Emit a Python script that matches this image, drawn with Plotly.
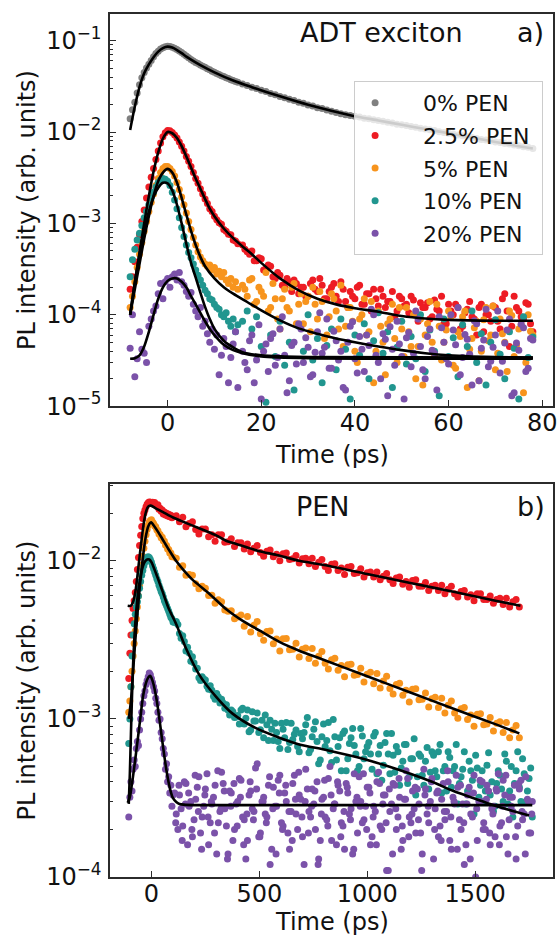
import plotly.graph_objects as go

# ---------------- panel a) ADT exciton ----------------
t_a = [-8.0, -7.5, -7.0, -6.5, -6.0, -5.5, -5.0, -4.5, -4.0, -3.5, -3.0, -2.5, -2.0, -1.5, -1.0, -0.5,
       0.0, 0.5, 1.0, 1.5, 2.0, 2.5, 3.0, 3.5, 4.0, 4.5, 5.0, 5.5, 6.0, 6.5, 7.0, 7.5,
       8.0, 8.5, 9.0, 9.5, 10.0, 10.5, 11.0, 11.5, 12.0, 12.5, 13.0, 13.5, 14.0, 14.5, 15.0,
       16, 17, 18, 19, 20, 21, 22, 23, 24, 25, 26, 27, 28, 29, 30, 31, 32, 33, 34, 35, 36, 37, 38, 39,
       40, 41, 42, 43, 44, 45, 46, 47, 48, 49, 50, 51, 52, 53, 54, 55, 56, 57, 58, 59, 60, 61, 62, 63,
       64, 65, 66, 67, 68, 69, 70, 71, 72, 73, 74, 75, 76, 77, 78]
t_a2 = [16.5, 17.5, 18.5, 19.5, 20.5, 21.5, 22.5, 23.5, 24.5, 25.5, 26.5, 27.5, 28.5, 29.5, 30.5,
        31.5, 32.5, 33.5, 34.5, 35.5, 36.5, 37.5, 38.5, 39.5, 40.5, 41.5, 42.5, 43.5, 44.5, 45.5,
        46.5, 47.5, 48.5, 49.5, 50.5, 51.5, 52.5, 53.5, 54.5, 55.5, 56.5, 57.5, 58.5, 59.5, 60.5,
        61.5, 62.5, 63.5, 64.5, 65.5, 66.5, 67.5, 68.5, 69.5, 70.5, 71.5, 72.5, 73.5, 74.5, 75.5,
        76.5, 77.5]

gray_a = [0.0140, 0.0175, 0.0212, 0.0268, 0.0330, 0.0392, 0.0448, 0.0502, 0.0553, 0.0608, 0.0668, 0.0722, 0.0768, 0.0812, 0.0838, 0.0858,
          0.0868, 0.0862, 0.0848, 0.0828, 0.0802, 0.0772, 0.0741, 0.0712, 0.0681, 0.0652, 0.0622, 0.0601, 0.0578, 0.0562, 0.0541, 0.0524,
          0.0512, 0.0494, 0.0481, 0.0463, 0.0452, 0.0436, 0.0427, 0.0413, 0.0405, 0.0392, 0.0385, 0.0374, 0.0367, 0.0357, 0.0351,
          0.0336, 0.0323, 0.0309, 0.0299, 0.0286, 0.0277, 0.0264, 0.0256, 0.0245, 0.0238,
          0.0228, 0.0221, 0.0212, 0.0206, 0.0198, 0.0193, 0.0185, 0.0181, 0.0174, 0.0169,
          0.0164, 0.0159, 0.0155, 0.0152, 0.0149, 0.0146, 0.0142, 0.0140, 0.0136, 0.0134,
          0.0131, 0.0128, 0.0126, 0.0122, 0.0120, 0.0118, 0.0115, 0.0113, 0.0110, 0.0108,
          0.0106, 0.0104, 0.0101, 0.0099, 0.0097, 0.0095, 0.0093, 0.0091, 0.0089, 0.0087,
          0.0085, 0.0083, 0.0082, 0.0080, 0.0078, 0.0077, 0.0075, 0.0074, 0.0072, 0.0071,
          0.0069, 0.0068, 0.0066]

red_a = [1.9e-4, 2.6e-4, 3.8e-4, 5.5e-4, 7.5e-4, 1.05e-3, 1.4e-3, 1.9e-3, 2.5e-3, 3.2e-3, 4.0e-3, 5.0e-3, 6.2e-3, 7.6e-3, 8.9e-3, 9.8e-3,
         1.04e-2, 1.03e-2, 9.9e-3, 9.3e-3, 8.6e-3, 7.8e-3, 7.0e-3, 6.2e-3, 5.4e-3, 4.8e-3,
         4.2e-3, 3.6e-3, 3.1e-3, 2.75e-3, 2.4e-3, 2.1e-3, 1.85e-3, 1.65e-3, 1.45e-3, 1.35e-3, 1.2e-3,
         1.1e-3, 1.02e-3, 9.8e-4, 8.6e-4, 8.2e-4, 7.6e-4, 7.5e-4, 6.6e-4, 6.4e-4, 6.0e-4,
         5.8e-4, 4.9e-4, 5.0e-4, 3.9e-4, 4.1e-4, 3.2e-4, 3.4e-4, 2.5e-4, 2.7e-4, 2.0e-4, 2.3e-4, 2.4e-4, 1.7e-4, 2.0e-4, 1.6e-4,
         2.4e-4, 1.8e-4, 2.1e-4, 1.5e-4, 2.0e-4, 1.6e-4, 2.3e-4, 1.4e-4, 1.8e-4, 1.5e-4,
         2.1e-4, 1.3e-4, 1.7e-4, 1.9e-4, 1.25e-4, 1.6e-4, 1.4e-4, 1.8e-4, 1.1e-4, 1.5e-4,
         1.3e-4, 1.6e-4, 1.0e-4, 1.35e-4, 1.2e-4, 9.0e-5, 1.45e-4, 1.1e-4, 8.0e-5, 1.3e-4,
         1.0e-4, 1.2e-4, 7.5e-5, 1.15e-4, 9.5e-5, 6.0e-5, 1.3e-4, 1.0e-4, 8.5e-5, 1.2e-4,
         7.0e-5, 1.7e-4, 4.5e-5, 1.6e-4, 1.1e-4, 9.0e-5, 1.3e-4, 6.5e-5]
red_a2 = [5.2e-4, 4.6e-4, 3.9e-4, 4.2e-4, 3.1e-4, 3.5e-4, 2.6e-4, 2.9e-4, 2.1e-4, 2.5e-4,
          1.8e-4, 2.2e-4, 2.0e-4, 1.6e-4, 2.2e-4, 1.9e-4, 2.5e-4, 1.5e-4, 1.8e-4, 2.2e-4,
          1.4e-4, 1.9e-4, 1.2e-4, 1.6e-4, 2.0e-4, 1.3e-4, 1.7e-4, 1.1e-4, 1.5e-4, 1.9e-4,
          1.2e-4, 1.4e-4, 9.5e-5, 1.6e-4, 1.25e-4, 1.05e-4, 1.45e-4, 8.5e-5, 1.2e-4, 1.35e-4,
          9.5e-5, 1.15e-4, 1.6e-4, 8.0e-5, 1.1e-4, 1.3e-4, 7.0e-5, 1.05e-4, 1.4e-4, 9.0e-5,
          1.2e-4, 6.5e-5, 1.0e-4, 1.25e-4, 8.5e-5, 1.5e-4, 1.1e-4, 7.5e-5, 1.2e-4, 9.5e-5,
          1.35e-4, 8.0e-5]

orange_a = [1.2e-4, 1.6e-4, 2.3e-4, 3.3e-4, 4.6e-4, 6.2e-4, 8.2e-4, 1.05e-3, 1.35e-3, 1.7e-3, 2.1e-3, 2.6e-3, 3.1e-3, 3.6e-3, 4.0e-3, 4.2e-3,
            4.2e-3, 4.0e-3, 3.7e-3, 3.3e-3, 2.8e-3, 2.35e-3, 1.95e-3, 1.6e-3, 1.3e-3, 1.05e-3, 8.6e-4, 7.0e-4, 5.8e-4, 4.9e-4, 4.3e-4, 3.9e-4,
            3.6e-4, 3.4e-4, 3.5e-4, 3.1e-4, 3.3e-4, 2.8e-4, 3.0e-4, 2.6e-4, 2.9e-4, 2.4e-4, 2.2e-4, 2.5e-4, 2.0e-4, 2.3e-4, 1.9e-4,
            2.1e-4, 1.6e-4, 2.5e-4, 1.4e-4, 1.8e-4, 2.9e-4, 1.2e-4, 1.5e-4, 7.0e-5, 1.9e-4,
            1.1e-4, 2.2e-4, 1.3e-4, 8.0e-5, 1.6e-4, 2.0e-4, 9.0e-5, 1.4e-4, 6.0e-5, 1.7e-4,
            1.1e-4, 2.1e-4, 7.5e-5, 1.2e-4, 4.0e-5, 9.0e-5, 1.5e-4, 6.5e-5, 1.8e-5, 1.1e-4,
            5.0e-5, 8.0e-5, 1.3e-4, 3.0e-5, 7.0e-5, 1.2e-4, 4.5e-5, 2.0e-5, 9.0e-5, 6.0e-5,
            1.4e-4, 3.5e-5, 7.5e-5, 5.0e-5, 1.1e-4, 2.8e-5, 6.5e-5, 9.5e-5, 1.6e-5, 5.5e-5,
            8.5e-5, 4.0e-5, 1.2e-4, 6.0e-5, 2.5e-5, 9.0e-5, 5.0e-5, 1.1e-4, 3.5e-5, 7.0e-5,
            1.4e-5, 1.0e-4, 6.0e-5]
orange_a2 = [1.9e-4, 2.4e-4, 1.3e-4, 2.0e-4, 1.6e-4, 1.1e-4, 2.2e-4, 9.0e-5, 1.5e-4, 1.2e-4,
             2.0e-4, 8.0e-5, 1.7e-4, 1.4e-4, 6.5e-5, 1.3e-4, 1.8e-4, 5.5e-5, 9.5e-5, 1.5e-4,
             7.0e-5, 4.5e-5, 1.2e-4, 8.5e-5, 3.0e-5, 1.0e-4, 6.0e-5, 1.4e-4, 4.0e-5, 7.5e-5,
             2.2e-5, 9.0e-5, 5.5e-5, 1.2e-4, 3.5e-5, 6.5e-5, 1.0e-4, 4.5e-5, 1.7e-5, 8.0e-5,
             5.0e-5, 1.3e-4, 3.2e-5, 6.8e-5, 9.5e-5, 2.6e-5, 5.8e-5, 1.1e-4, 4.2e-5, 7.2e-5,
             1.9e-5, 8.8e-5, 5.2e-5, 1.25e-4, 3.8e-5, 6.2e-5, 2.4e-5, 9.8e-5, 4.6e-5, 7.8e-5,
             3.0e-5, 6.6e-5]

teal_a = [2.6e-4, 4.0e-4, 5.2e-4, 6.6e-4, 7.8e-4, 9.5e-4, 1.15e-3, 1.35e-3, 1.6e-3, 1.9e-3, 2.2e-3, 2.5e-3, 2.8e-3, 3.0e-3, 3.1e-3, 3.05e-3,
          2.9e-3, 2.6e-3, 2.2e-3, 1.8e-3, 1.45e-3, 1.15e-3, 9.0e-4, 7.2e-4, 5.8e-4, 4.8e-4, 4.2e-4, 3.6e-4, 3.1e-4, 2.7e-4, 2.4e-4, 2.1e-4,
          1.85e-4, 1.7e-4, 1.5e-4, 1.45e-4, 1.3e-4, 1.2e-4, 1.15e-4, 1.0e-4, 9.5e-5, 1.05e-4, 8.5e-5, 7.5e-5, 9.0e-5, 6.5e-5, 7.8e-5,
          8.5e-5, 1.1e-4, 7.0e-5, 9.5e-5, 4.5e-5, 1.1e-5, 6.0e-5, 3.5e-5, 8.5e-5, 2.8e-5,
          5.0e-5, 1.5e-5, 7.5e-5, 4.0e-5, 1.0e-4, 3.2e-5, 5.5e-5, 1.8e-5, 4.6e-5, 7.0e-5,
          2.5e-5, 9.0e-5, 4.2e-5, 1.2e-5, 6.0e-5, 3.6e-5, 8.0e-5, 2.0e-5, 5.2e-5, 1.05e-4,
          3.8e-5, 6.5e-5, 1.6e-5, 4.4e-5, 8.5e-5, 2.9e-5, 5.8e-5, 3.3e-5, 1.0e-4, 2.4e-5,
          6.8e-5, 4.0e-5, 1.3e-5, 9.0e-5, 3.5e-5, 5.6e-5, 2.1e-5, 7.8e-5, 4.5e-5, 1.1e-4,
          3.0e-5, 6.2e-5, 1.7e-5, 5.0e-5, 8.8e-5, 3.7e-5, 2.0e-5, 6.5e-5, 4.3e-5, 1.2e-5,
          9.5e-5, 3.4e-5, 5.7e-5]

purple_a = [4.3e-5, 1.0e-4, 2.1e-5, 3.3e-5, 6.5e-5, 4.2e-5, 3.8e-5, 3.0e-5, 7.5e-5, 9.0e-5, 1.1e-4, 1.25e-4, 1.7e-4, 2.2e-4, 1.5e-4, 2.3e-4,
            2.5e-4, 2.0e-4, 2.6e-4, 2.8e-4, 2.4e-4, 2.9e-4, 2.3e-4, 2.1e-4, 1.8e-4, 1.6e-4, 1.75e-4, 1.3e-4, 1.1e-4, 9.5e-5, 1.2e-4, 7.5e-5,
            8.5e-5, 6.2e-5, 5.0e-5, 7.0e-5, 4.2e-5, 6.0e-5, 2.2e-5, 3.6e-5, 5.5e-5, 4.5e-5, 1.8e-5, 3.4e-5, 4.8e-5, 6.5e-5, 1.6e-5,
            4.0e-5, 2.5e-5, 6.0e-5, 3.2e-5, 1.2e-5, 4.8e-5, 5.5e-5, 2.8e-5, 7.0e-5, 3.6e-5,
            1.9e-5, 5.0e-5, 8.0e-5, 3.0e-5, 4.4e-5, 2.2e-5, 6.5e-5, 3.8e-5, 9.0e-5, 2.6e-5,
            5.2e-5, 4.0e-5, 1.5e-5, 7.5e-5, 3.3e-5, 5.8e-5, 2.4e-5, 4.6e-5, 1.0e-4, 3.0e-5,
            6.2e-5, 1.3e-5, 4.2e-5, 8.5e-5, 3.5e-5, 5.6e-5, 2.7e-5, 1.1e-4, 4.5e-5, 2.0e-5,
            7.0e-5, 3.8e-5, 9.5e-5, 5.0e-5, 2.9e-5, 6.8e-5, 1.2e-4, 3.4e-5, 5.4e-5, 1.7e-5,
            8.0e-5, 4.3e-5, 1.15e-4, 3.1e-5, 6.0e-5, 2.3e-5, 4.9e-5, 9.0e-5, 1.4e-5, 4.1e-5,
            7.2e-5, 2.6e-5, 5.3e-5]
purple_a2 = [3.0e-5, 5.2e-5, 1.8e-5, 7.8e-5, 4.0e-5, 2.4e-5, 6.2e-5, 3.4e-5, 9.5e-5, 1.4e-5,
             4.6e-5, 2.9e-5, 7.0e-5, 5.6e-5, 2.1e-5, 3.9e-5, 1.05e-4, 4.4e-5, 2.6e-5, 6.6e-5,
             3.2e-5, 1.6e-5, 5.0e-5, 8.4e-5, 2.3e-5, 4.2e-5, 6.0e-5, 1.15e-4, 3.6e-5, 2.0e-5,
             5.4e-5, 7.4e-5, 2.8e-5, 4.8e-5, 1.2e-5, 6.4e-5, 3.8e-5, 9.0e-5, 2.5e-5, 5.8e-5,
             4.1e-5, 1.5e-5, 7.2e-5, 3.3e-5, 1.0e-4, 4.7e-5, 2.2e-5, 6.1e-5, 3.7e-5, 8.6e-5,
             1.9e-5, 5.3e-5, 2.7e-5, 4.4e-5, 1.1e-4, 3.1e-5, 6.8e-5, 1.3e-5, 4.9e-5, 7.9e-5,
             2.4e-5, 5.5e-5]

# fitted curves, panel a)
fit_t_gray = [-8, -7, -6, -5, -4, -3, -2, -1, 0, 1, 2, 3, 4, 5, 7, 10, 14, 18, 24, 30, 39, 45, 50, 55, 60, 65, 70, 75, 78]
fit_gray = [0.0105, 0.019, 0.031, 0.044, 0.055, 0.066, 0.076, 0.083, 0.086, 0.084, 0.079, 0.073, 0.067, 0.062, 0.054,
            0.045, 0.0366, 0.031, 0.0246, 0.0199, 0.0153, 0.0134, 0.012, 0.0108, 0.0097, 0.0087, 0.0078, 0.007, 0.0066]
fit_t_red = [-8, -7, -6, -5, -4, -3, -2, -1, 0, 1, 2, 3, 4, 5, 6, 7, 8, 9, 10, 12, 14, 16, 18, 20, 24, 28, 32, 36, 40, 45, 50, 55, 60, 70, 78]
fit_red = [1.0e-4, 2.2e-4, 4.8e-4, 1.0e-3, 2.0e-3, 3.7e-3, 6.0e-3, 8.5e-3, 1.0e-2, 9.7e-3, 8.6e-3, 7.0e-3, 5.4e-3, 4.1e-3,
           3.1e-3, 2.4e-3, 1.85e-3, 1.45e-3, 1.2e-3, 8.8e-4, 6.9e-4, 5.6e-4, 4.6e-4, 3.7e-4, 2.5e-4, 1.85e-4, 1.5e-4,
           1.3e-4, 1.18e-4, 1.08e-4, 9.7e-5, 9.1e-5, 8.8e-5, 8.6e-5, 8.6e-5]
fit_t_orange = [-8, -7, -6, -5, -4, -3, -2, -1, 0, 1, 2, 3, 4, 5, 6, 7, 8, 10, 12, 14, 17, 20, 24, 28, 32, 36, 40, 45, 50, 55, 60, 65, 70, 78]
fit_orange = [1.0e-4, 1.9e-4, 3.6e-4, 6.8e-4, 1.2e-3, 2.0e-3, 2.9e-3, 3.6e-3, 3.95e-3, 3.6e-3, 2.8e-3, 1.9e-3, 1.25e-3,
              8.3e-4, 5.8e-4, 4.3e-4, 3.4e-4, 2.5e-4, 2.0e-4, 1.7e-4, 1.38e-4, 1.12e-4, 8.7e-5, 7.1e-5, 6.2e-5, 5.5e-5,
              5.0e-5, 4.5e-5, 4.1e-5, 3.8e-5, 3.6e-5, 3.5e-5, 3.45e-5, 3.4e-5]
fit_t_teal = [-8, -7, -6, -5, -4, -3, -2, -1, 0, 1, 2, 3, 4, 5, 6, 7, 8, 9, 10, 12, 14, 16, 20, 25, 30, 78]
fit_teal = [1.0e-4, 2.3e-4, 4.6e-4, 8.3e-4, 1.35e-3, 1.95e-3, 2.45e-3, 2.78e-3, 2.75e-3, 2.3e-3, 1.6e-3, 1.0e-3, 6.0e-4,
            3.7e-4, 2.55e-4, 1.75e-4, 1.22e-4, 9.0e-5, 7.0e-5, 5.2e-5, 4.4e-5, 3.9e-5, 3.6e-5, 3.5e-5, 3.45e-5, 3.4e-5]
fit_t_purple = [-8, -7, -6, -5, -4, -3, -2, -1, 0, 1, 2, 3, 4, 5, 6, 7, 8, 9, 10, 12, 14, 16, 20, 30, 78]
fit_purple = [3.3e-5, 3.35e-5, 3.6e-5, 4.5e-5, 6.5e-5, 1.0e-4, 1.5e-4, 2.0e-4, 2.35e-4, 2.5e-4, 2.5e-4, 2.3e-4, 2.0e-4,
              1.6e-4, 1.3e-4, 1.05e-4, 8.5e-5, 7.0e-5, 6.0e-5, 4.7e-5, 4.1e-5, 3.8e-5, 3.5e-5, 3.35e-5, 3.3e-5]

# ---------------- panel b) PEN ----------------
t_b = [-105, -100, -95, -90, -85, -80, -75, -70, -65, -60, -55, -50, -45, -40, -35, -30, -25, -20, -15, -10, -5, 0,
       5, 10, 15, 20, 25, 30, 35, 40, 45, 50, 55, 60, 65, 70, 75, 80, 85, 90, 95, 100,
       115, 130, 145, 160, 175, 190, 205, 220, 235, 250, 265, 280, 295, 310, 325, 340, 355, 370, 385, 400,
       415, 430, 445, 460, 475, 490, 505, 520, 535, 550, 565, 580, 595, 610, 625, 640, 655, 670, 685, 700,
       715, 730, 745, 760, 775, 790, 805, 820, 835, 850, 865, 880, 895, 910, 925, 940, 955, 970, 985, 1000,
       1015, 1030, 1045, 1060, 1075, 1090, 1105, 1120, 1135, 1150, 1165, 1180, 1195, 1210, 1225, 1240, 1255, 1270, 1285, 1300,
       1315, 1330, 1345, 1360, 1375, 1390, 1405, 1420, 1435, 1450, 1465, 1480, 1495, 1510, 1525, 1540, 1555, 1570, 1585, 1600,
       1615, 1630, 1645, 1660, 1675, 1690, 1705, 1720, 1735, 1750, 1765]
t_b2 = [107.5, 122.5, 137.5, 152.5, 167.5, 182.5, 197.5, 212.5, 227.5, 242.5, 257.5, 272.5, 287.5, 302.5, 317.5, 332.5, 347.5, 362.5, 377.5, 392.5,
        407.5, 422.5, 437.5, 452.5, 467.5, 482.5, 497.5, 512.5, 527.5, 542.5, 557.5, 572.5, 587.5, 602.5, 617.5, 632.5, 647.5, 662.5, 677.5, 692.5,
        707.5, 722.5, 737.5, 752.5, 767.5, 782.5, 797.5, 812.5, 827.5, 842.5, 857.5, 872.5, 887.5, 902.5, 917.5, 932.5, 947.5, 962.5, 977.5, 992.5,
        1007.5, 1022.5, 1037.5, 1052.5, 1067.5, 1082.5, 1097.5, 1112.5, 1127.5, 1142.5, 1157.5, 1172.5, 1187.5, 1202.5, 1217.5, 1232.5, 1247.5, 1262.5, 1277.5, 1292.5,
        1307.5, 1322.5, 1337.5, 1352.5, 1367.5, 1382.5, 1397.5, 1412.5, 1427.5, 1442.5, 1457.5, 1472.5, 1487.5, 1502.5, 1517.5, 1532.5, 1547.5, 1562.5, 1577.5, 1592.5,
        1607.5, 1622.5, 1637.5, 1652.5, 1667.5, 1682.5, 1697.5, 1712.5, 1727.5, 1742.5, 1757.5]
t_b3 = [112.5, 127.5, 142.5, 157.5, 172.5, 187.5, 202.5, 217.5, 232.5, 247.5, 262.5, 277.5, 292.5, 307.5, 322.5, 337.5, 352.5, 367.5, 382.5, 397.5,
        412.5, 427.5, 442.5, 457.5, 472.5, 487.5, 502.5, 517.5, 532.5, 547.5, 562.5, 577.5, 592.5, 607.5, 622.5, 637.5, 652.5, 667.5, 682.5, 697.5,
        712.5, 727.5, 742.5, 757.5, 772.5, 787.5, 802.5, 817.5, 832.5, 847.5, 862.5, 877.5, 892.5, 907.5, 922.5, 937.5, 952.5, 967.5, 982.5, 997.5,
        1012.5, 1027.5, 1042.5, 1057.5, 1072.5, 1087.5, 1102.5, 1117.5, 1132.5, 1147.5, 1162.5, 1177.5, 1192.5, 1207.5, 1222.5, 1237.5, 1252.5, 1267.5, 1282.5, 1297.5,
        1312.5, 1327.5, 1342.5, 1357.5, 1372.5, 1387.5, 1402.5, 1417.5, 1432.5, 1447.5, 1462.5, 1477.5, 1492.5, 1507.5, 1522.5, 1537.5, 1552.5, 1567.5, 1582.5, 1597.5,
        1612.5, 1627.5, 1642.5, 1657.5, 1672.5, 1687.5, 1702.5, 1717.5, 1732.5, 1747.5, 1762.5]

red_b = [1.8e-3, 2.6e-3, 3.4e-3, 4.2e-3, 5.0e-3, 5.6e-3, 6.3e-3, 7.4e-3, 8.8e-3, 1.05e-2, 1.25e-2, 1.45e-2, 1.65e-2, 1.85e-2, 2.0e-2, 2.1e-2,
         2.2e-2, 2.28e-2, 2.33e-2, 2.36e-2, 2.35e-2, 2.32e-2,
         2.35e-2, 2.3e-2, 2.34e-2, 2.25e-2, 2.22e-2, 2.26e-2, 2.12e-2, 2.15e-2, 2.06e-2, 2.1e-2, 1.98e-2, 2.04e-2, 1.95e-2, 2.0e-2,
         1.92e-2, 1.97e-2, 1.9e-2, 1.94e-2, 1.87e-2, 1.91e-2,
         1.93e-2, 1.77e-2, 1.89e-2, 1.64e-2, 1.72e-2, 1.77e-2, 1.58e-2, 1.48e-2, 1.59e-2, 1.59e-2, 1.42e-2, 1.46e-2, 1.33e-2, 1.46e-2,
         1.46e-2, 1.31e-2, 1.32e-2, 1.38e-2, 1.23e-2, 1.30e-2,
         1.30e-2, 1.19e-2, 1.28e-2, 1.14e-2, 1.20e-2, 1.25e-2, 1.13e-2, 1.07e-2, 1.15e-2, 1.17e-2, 1.06e-2, 1.10e-2, 1.00e-2, 1.11e-2,
         1.12e-2, 1.02e-2, 1.03e-2, 1.08e-2, 9.7e-3, 1.03e-2,
         1.04e-2, 9.6e-3, 1.04e-2, 9.2e-3, 9.8e-3, 1.02e-2, 9.2e-3, 8.7e-3, 9.5e-3, 9.6e-3, 8.7e-3, 9.0e-3, 8.2e-3, 9.1e-3, 9.2e-3,
         8.3e-3, 8.4e-3, 8.9e-3, 7.9e-3, 8.4e-3,
         8.5e-3, 7.9e-3, 8.5e-3, 7.6e-3, 8.0e-3, 8.3e-3, 7.6e-3, 7.2e-3, 7.8e-3, 7.9e-3, 7.1e-3, 7.4e-3, 6.8e-3, 7.5e-3, 7.6e-3,
         6.9e-3, 6.9e-3, 7.3e-3, 6.5e-3, 6.9e-3,
         7.0e-3, 6.5e-3, 7.0e-3, 6.2e-3, 6.6e-3, 6.9e-3, 6.2e-3, 5.9e-3, 6.4e-3, 6.5e-3, 5.9e-3, 6.1e-3, 5.6e-3, 6.2e-3, 6.2e-3,
         5.7e-3, 5.7e-3, 6.0e-3, 5.4e-3, 5.7e-3,
         5.8e-3, 5.3e-3, 5.8e-3, 5.1e-3, 5.5e-3, 5.7e-3, 5.1e-3]

orange_b = [1.1e-3, 1.3e-3, 1.6e-3, 2.0e-3, 2.5e-3, 3.0e-3, 3.6e-3, 4.3e-3, 5.1e-3, 6.0e-3, 7.0e-3, 8.2e-3, 9.4e-3, 1.07e-2, 1.2e-2,
            1.33e-2, 1.46e-2, 1.58e-2, 1.68e-2, 1.76e-2, 1.8e-2, 1.82e-2,
            1.76e-2, 1.72e-2, 1.66e-2, 1.64e-2, 1.57e-2, 1.55e-2, 1.48e-2, 1.47e-2, 1.40e-2, 1.41e-2, 1.34e-2, 1.33e-2, 1.26e-2,
            1.25e-2, 1.19e-2, 1.18e-2, 1.12e-2, 1.12e-2, 1.06e-2, 1.06e-2,
            1.04e-2, 9.1e-3, 9.3e-3, 8.1e-3, 8.2e-3, 8.1e-3, 7.15e-3, 6.65e-3, 6.9e-3, 6.7e-3, 6.03e-3, 6.06e-3, 5.4e-3, 5.67e-3,
            5.51e-3, 4.88e-3, 4.8e-3, 4.84e-3, 4.3e-3, 4.42e-3,
            4.54e-3, 3.85e-3, 4.44e-3, 3.55e-3, 3.91e-3, 4.14e-3, 3.46e-3, 3.15e-3, 3.57e-3, 3.6e-3, 2.99e-3, 3.2e-3, 2.69e-3, 3.21e-3,
            3.23e-3, 2.74e-3, 2.76e-3, 3.01e-3, 2.46e-3, 2.76e-3,
            2.81e-3, 2.41e-3, 2.79e-3, 2.25e-3, 2.49e-3, 2.67e-3, 2.25e-3, 2.07e-3, 2.37e-3, 2.42e-3, 2.03e-3, 2.18e-3, 1.85e-3, 2.2e-3,
            2.22e-3, 1.89e-3, 1.91e-3, 2.09e-3, 1.71e-3, 1.92e-3,
            1.97e-3, 1.67e-3, 1.94e-3, 1.57e-3, 1.74e-3, 1.86e-3, 1.56e-3, 1.44e-3, 1.65e-3, 1.68e-3, 1.41e-3, 1.52e-3, 1.28e-3, 1.54e-3,
            1.55e-3, 1.32e-3, 1.33e-3, 1.46e-3, 1.19e-3, 1.34e-3,
            1.37e-3, 1.18e-3, 1.35e-3, 1.09e-3, 1.22e-3, 1.3e-3, 1.09e-3, 1.01e-3, 1.16e-3, 1.18e-3, 9.9e-4, 1.06e-3, 9.0e-4, 1.07e-3,
            1.08e-3, 9.2e-4, 9.3e-4, 1.02e-3, 8.4e-4, 9.4e-4,
            9.6e-4, 8.2e-4, 9.5e-4, 7.6e-4, 8.5e-4, 9.1e-4, 7.6e-4]

teal_b = [7.0e-4, 1.0e-3, 1.6e-3, 2.5e-3, 3.4e-3, 4.0e-3, 4.6e-3, 5.1e-3, 5.5e-3, 6.0e-3, 6.7e-3, 7.4e-3, 8.1e-3, 8.7e-3, 9.3e-3,
          9.8e-3, 1.02e-2, 1.05e-2, 1.06e-2, 1.05e-2, 1.02e-2, 9.8e-3,
          9.3e-3, 8.9e-3, 8.5e-3, 8.1e-3, 7.7e-3, 7.4e-3, 7.0e-3, 6.7e-3, 6.4e-3, 6.2e-3, 5.9e-3, 5.6e-3, 5.4e-3, 5.2e-3, 5.0e-3,
          4.8e-3, 4.6e-3, 4.4e-3, 4.3e-3, 4.1e-3,
          4.13e-3, 3.47e-3, 3.36e-3, 2.69e-3, 2.61e-3, 2.47e-3, 2.07e-3, 1.82e-3, 1.85e-3, 1.76e-3, 1.54e-3, 1.52e-3, 1.33e-3, 1.38e-3,
          1.33e-3, 1.17e-3, 1.14e-3, 1.14e-3, 1.02e-3, 1.05e-3,
          1.14e-3, 9.3e-4, 1.14e-3, 8.5e-4, 9.7e-4, 1.09e-3, 8.55e-4, 7.6e-4, 9.2e-4, 9.8e-4, 7.3e-4, 8.2e-4, 6.5e-4, 8.6e-4, 9.5e-4,
          7.1e-4, 7.4e-4, 8.5e-4, 6.2e-4, 7.5e-4,
          9.2e-4, 6.1e-4, 7.7e-4, 9.6e-4, 5.2e-4, 7.7e-4, 6.7e-4, 9.5e-4, 5.3e-4, 7.7e-4, 6.7e-4, 4.7e-4, 8.4e-4, 5.6e-4, 7.6e-4,
          6.8e-4, 4.7e-4, 8.7e-4, 5.6e-4, 6.7e-4,
          6.0e-4, 7.8e-4, 4.5e-4, 6.8e-4, 5.1e-4, 8.1e-4, 4.5e-4, 5.9e-4, 6.7e-4, 3.8e-4, 5.4e-4, 6.9e-4, 4.3e-4, 5.6e-4, 3.3e-4,
          6.0e-4, 4.4e-4, 5.4e-4, 3.6e-4, 6.2e-4,
          4.7e-4, 6.2e-4, 3.4e-4, 5.0e-4, 6.2e-4, 3.7e-4, 5.0e-4, 2.9e-4, 4.3e-4, 6.2e-4, 3.5e-4, 4.7e-4, 2.5e-4, 4.9e-4, 3.8e-4,
          3.0e-4, 5.1e-4, 3.3e-4, 2.6e-4, 3.9e-4,
          4.4e-4, 3.0e-4, 5.4e-4, 3.5e-4, 2.4e-4, 4.7e-4, 3.7e-4, 5.6e-4, 3.0e-4, 4.2e-4, 2.4e-4]
teal_b2 = [4.07e-3, 3.96e-3, 3.24e-3, 3.09e-3, 2.84e-3, 2.32e-3, 2.26e-3, 2.09e-3, 1.75e-3, 1.79e-3, 1.61e-3, 1.62e-3, 1.39e-3,
           1.45e-3, 1.26e-3, 1.26e-3, 1.23e-3, 1.06e-3, 1.11e-3, 1.03e-3,
           9.3e-4, 1.17e-3, 1.01e-3, 8.3e-4, 1.11e-3, 9.7e-4, 8.2e-4, 9.8e-4, 1.06e-3, 7.3e-4, 8.6e-4, 9.4e-4, 7.2e-4, 9.4e-4,
           7.6e-4, 6.4e-4, 9.4e-4, 8.0e-4, 6.7e-4, 8.1e-4,
           8.2e-4, 1.02e-3, 6.4e-4, 8.6e-4, 7.2e-4, 5.5e-4, 9.3e-4, 7.3e-4, 6.3e-4, 9.9e-4, 5.5e-4, 7.6e-4, 8.1e-4, 4.7e-4,
           7.0e-4, 8.7e-4, 6.0e-4, 5.0e-4, 7.8e-4, 6.2e-4,
           7.1e-4, 4.8e-4, 8.2e-4, 6.0e-4, 4.1e-4, 7.1e-4, 6.0e-4, 8.1e-4, 4.6e-4, 6.2e-4, 4.9e-4, 6.9e-4, 3.9e-4, 5.6e-4,
           7.5e-4, 4.3e-4, 5.8e-4, 3.8e-4, 6.6e-4, 4.6e-4,
           5.9e-4, 4.3e-4, 6.9e-4, 4.7e-4, 3.5e-4, 5.7e-4, 4.7e-4, 6.9e-4, 3.9e-4, 4.8e-4, 2.9e-4, 5.4e-4, 4.1e-4, 5.9e-4,
           3.2e-4, 4.7e-4, 3.5e-4, 6.1e-4, 4.0e-4, 2.8e-4,
           4.7e-4, 3.6e-4, 6.0e-4, 2.9e-4, 5.0e-4, 3.9e-4, 6.2e-4, 3.0e-4, 4.5e-4, 3.5e-4, 4.9e-4]

purple_b = [2.4e-4, 3.2e-4, 4.0e-4, 3.5e-4, 4.8e-4, 5.5e-4, 5.0e-4, 6.5e-4, 7.2e-4, 6.8e-4, 8.5e-4, 1.0e-3, 1.1e-3, 1.25e-3,
            1.4e-3, 1.5e-3, 1.65e-3, 1.75e-3, 1.85e-3, 1.95e-3, 1.9e-3, 1.8e-3,
            1.7e-3, 1.6e-3, 1.5e-3, 1.35e-3, 1.25e-3, 1.1e-3, 9.8e-4, 1.0e-3, 8.2e-4, 7.5e-4, 6.5e-4, 6.0e-4, 4.8e-4, 5.2e-4,
            4.0e-4, 4.3e-4, 3.4e-4, 3.8e-4, 2.8e-4, 3.3e-4,
            2.5e-4, 3.3e-4, 2.1e-4, 3.9e-4, 2.8e-4, 1.8e-4, 3.1e-4, 4.3e-4, 2.4e-4, 3.6e-4, 1.6e-4, 2.9e-4, 3.8e-4, 2.2e-4,
            4.6e-4, 2.7e-4, 1.4e-4, 3.4e-4, 2.0e-4, 3.0e-4,
            4.1e-4, 2.3e-4, 1.7e-4, 3.5e-4, 2.6e-4, 5.2e-4, 1.9e-4, 3.2e-4, 2.4e-4, 1.2e-4, 3.7e-4, 2.8e-4, 4.4e-4, 2.1e-4,
            3.0e-4, 1.5e-4, 3.9e-4, 2.5e-4, 3.3e-4, 1.8e-4,
            4.8e-4, 2.6e-4, 3.6e-4, 2.0e-4, 1.3e-4, 3.1e-4, 2.4e-4, 4.2e-4, 1.7e-4, 2.9e-4, 3.8e-4, 2.2e-4, 1.5e-4, 3.4e-4,
            2.7e-4, 4.5e-4, 1.9e-4, 3.0e-4, 2.3e-4, 3.7e-4,
            1.6e-4, 2.8e-4, 4.0e-4, 2.1e-4, 3.3e-4, 1.1e-4, 2.6e-4, 3.9e-4, 2.0e-4, 3.2e-4, 1.7e-4, 4.7e-4, 2.4e-4, 3.5e-4,
            1.9e-4, 2.9e-4, 1.4e-4, 3.6e-4, 2.2e-4, 4.2e-4,
            2.7e-4, 1.8e-4, 3.1e-4, 2.3e-4, 4.0e-4, 1.5e-4, 2.9e-4, 3.7e-4, 2.0e-4, 1.2e-4, 3.3e-4, 2.5e-4, 4.4e-4, 1.7e-4,
            3.0e-4, 2.2e-4, 3.8e-4, 1.6e-4, 2.8e-4, 3.5e-4,
            2.1e-4, 4.1e-4, 1.8e-4, 3.2e-4, 2.6e-4, 1.3e-4, 3.6e-4, 2.3e-4, 4.3e-4, 1.9e-4, 3.0e-4]
purple_b2 = [3.4e-4, 2.0e-4, 2.7e-4, 4.0e-4, 1.6e-4, 3.0e-4, 2.3e-4, 3.7e-4, 1.9e-4, 2.8e-4,
             4.5e-4, 2.2e-4, 3.2e-4, 1.4e-4, 2.6e-4, 3.9e-4, 2.1e-4, 3.5e-4, 1.7e-4, 2.9e-4,
             4.2e-4, 2.4e-4, 1.3e-4, 3.3e-4, 2.7e-4, 4.9e-4, 1.8e-4, 3.0e-4, 2.5e-4, 3.8e-4,
             1.5e-4, 2.8e-4, 4.1e-4, 2.2e-4, 3.4e-4, 1.9e-4, 2.6e-4, 4.4e-4, 2.0e-4, 3.1e-4,
             1.2e-4, 3.6e-4, 2.4e-4, 2.9e-4, 4.0e-4, 1.7e-4, 3.2e-4, 2.3e-4, 5.0e-4, 2.7e-4,
             1.6e-4, 3.5e-4, 2.1e-4, 3.9e-4, 2.5e-4, 1.4e-4, 3.0e-4, 4.3e-4, 2.2e-4, 2.8e-4,
             3.7e-4, 1.8e-4, 2.6e-4, 4.6e-4, 2.0e-4, 3.3e-4, 1.1e-4, 2.9e-4, 3.8e-4, 2.4e-4,
             1.5e-4, 3.1e-4, 4.2e-4, 2.2e-4, 2.7e-4, 3.6e-4, 1.9e-4, 4.8e-4, 2.5e-4, 3.0e-4,
             1.3e-4, 3.4e-4, 2.1e-4, 3.9e-4, 2.6e-4, 1.7e-4, 3.2e-4, 4.4e-4, 2.3e-4, 2.9e-4,
             1.6e-4, 3.7e-4, 2.4e-4, 1.0e-4, 3.0e-4, 4.0e-4, 2.0e-4, 3.5e-4, 2.7e-4, 1.8e-4,
             4.5e-4, 2.2e-4, 3.3e-4, 1.4e-4, 2.8e-4, 3.8e-4, 2.1e-4, 4.1e-4, 2.5e-4, 3.1e-4, 1.9e-4]
purple_b3 = [2.2e-4, 3.8e-4, 1.7e-4, 2.9e-4, 3.4e-4, 2.0e-4, 4.4e-4, 2.6e-4, 1.5e-4, 3.3e-4,
             2.4e-4, 3.0e-4, 1.9e-4, 4.7e-4, 2.7e-4, 3.5e-4, 1.3e-4, 2.8e-4, 3.9e-4, 2.1e-4,
             3.2e-4, 1.6e-4, 2.5e-4, 4.0e-4, 2.3e-4, 3.6e-4, 1.8e-4, 3.0e-4, 2.2e-4, 4.3e-4,
             2.7e-4, 1.4e-4, 3.4e-4, 2.0e-4, 3.8e-4, 2.6e-4, 1.7e-4, 3.1e-4, 4.6e-4, 2.4e-4,
             3.0e-4, 1.9e-4, 2.8e-4, 3.5e-4, 1.2e-4, 2.5e-4, 4.1e-4, 2.1e-4, 3.3e-4, 2.9e-4,
             4.0e-4, 1.8e-4, 2.6e-4, 3.7e-4, 2.3e-4, 1.5e-4, 3.2e-4, 2.8e-4, 4.5e-4, 2.0e-4,
             3.4e-4, 2.4e-4, 1.6e-4, 3.9e-4, 2.9e-4, 2.2e-4, 3.6e-4, 1.4e-4, 2.7e-4, 4.2e-4,
             2.1e-4, 3.1e-4, 1.8e-4, 2.5e-4, 3.7e-4, 2.3e-4, 1.1e-4, 3.3e-4, 2.8e-4, 4.0e-4,
             2.0e-4, 3.5e-4, 1.7e-4, 2.6e-4, 4.7e-4, 2.4e-4, 3.0e-4, 1.5e-4, 3.8e-4, 2.2e-4,
             2.9e-4, 1.3e-4, 3.4e-4, 2.7e-4, 4.1e-4, 2.0e-4, 3.1e-4, 1.9e-4, 2.5e-4, 3.6e-4,
             1.6e-4, 2.8e-4, 4.4e-4, 2.3e-4, 3.2e-4, 1.8e-4, 3.9e-4, 2.6e-4, 1.4e-4, 3.0e-4, 2.5e-4]

# fitted curves, panel b)
fit_t_red_b = [-110, -95, -85, -75, -65, -55, -45, -35, -25, -15, -5, 0, 20, 52, 100, 150, 191, 250, 300, 346, 400, 500, 580,
               685, 800, 1000, 1200, 1400, 1600, 1710]
fit_red_b = [5.2e-3, 5.2e-3, 5.5e-3, 6.3e-3, 8.0e-3, 1.06e-2, 1.38e-2, 1.75e-2, 2.05e-2, 2.2e-2, 2.24e-2, 2.23e-2, 2.15e-2,
             2.04e-2, 1.88e-2, 1.76e-2, 1.67e-2, 1.55e-2, 1.45e-2, 1.34e-2, 1.27e-2, 1.15e-2, 1.09e-2, 1.0e-2, 9.4e-3,
             8.25e-3, 7.24e-3, 6.37e-3, 5.57e-3, 5.2e-3]
fit_t_orange_b = [-105, -95, -85, -75, -65, -55, -45, -35, -25, -15, -5, 0, 10, 30, 50, 80, 114, 150, 190, 268, 350, 423, 500,
                  593, 685, 800, 1000, 1200, 1400, 1600, 1705]
fit_orange_b = [1.0e-3, 1.3e-3, 2.0e-3, 3.1e-3, 4.6e-3, 6.6e-3, 9.0e-3, 1.18e-2, 1.45e-2, 1.65e-2, 1.74e-2, 1.75e-2, 1.68e-2,
                1.53e-2, 1.38e-2, 1.18e-2, 1.0e-2, 8.7e-3, 7.6e-3, 6.2e-3, 4.9e-3, 4.17e-3, 3.63e-3, 3.07e-3, 2.7e-3,
                2.36e-3, 1.86e-3, 1.47e-3, 1.16e-3, 9.2e-4, 8.1e-4]
fit_t_teal_b = [-105, -100, -95, -90, -85, -80, -70, -60, -50, -40, -30, -20, -10, 0, 20, 50, 80, 114, 160, 222, 300, 376, 480,
                593, 685, 800, 900, 1000, 1100, 1200, 1300, 1400, 1519, 1600, 1750]
fit_teal_b = [2.9e-4, 4.5e-4, 8.0e-4, 1.4e-3, 2.2e-3, 3.1e-3, 4.9e-3, 6.6e-3, 8.0e-3, 9.2e-3, 9.9e-3, 1.02e-2, 1.02e-2, 9.8e-3,
              8.4e-3, 6.5e-3, 5.0e-3, 4.0e-3, 2.8e-3, 1.9e-3, 1.38e-3, 1.08e-3, 8.8e-4, 7.6e-4, 6.9e-4, 6.4e-4, 5.95e-4,
              5.5e-4, 5.0e-4, 4.5e-4, 4.0e-4, 3.5e-4, 3.06e-4, 2.8e-4, 2.45e-4]
fit_t_purple_b = [-110, -100, -90, -80, -70, -60, -50, -40, -30, -20, -10, -5, 0, 10, 20, 30, 40, 50, 60, 70, 80, 90, 100,
                  115, 130, 150, 200, 1765]
fit_purple_b = [2.95e-4, 3.2e-4, 3.9e-4, 4.9e-4, 6.3e-4, 8.1e-4, 1.05e-3, 1.36e-3, 1.6e-3, 1.77e-3, 1.86e-3, 1.87e-3, 1.82e-3,
                1.65e-3, 1.42e-3, 1.17e-3, 9.3e-4, 7.3e-4, 5.8e-4, 4.7e-4, 3.95e-4, 3.45e-4, 3.15e-4, 2.98e-4, 2.9e-4,
                2.87e-4, 2.85e-4, 2.85e-4]

labels = ["0% PEN", "2.5% PEN", "5% PEN", "10% PEN", "20% PEN"]
yticks_a = [1e-5, 1e-4, 1e-3, 1e-2, 1e-1]
yticktext_a = ["10<sup>−5</sup>", "10<sup>−4</sup>", "10<sup>−3</sup>", "10<sup>−2</sup>", "10<sup>−1</sup>"]
yticks_b = [1e-4, 1e-3, 1e-2]
yticktext_b = ["10<sup>−4</sup>", "10<sup>−3</sup>", "10<sup>−2</sup>"]
xticks_a = [0, 20, 40, 60, 80]
xticks_b = [0, 500, 1000, 1500]

GRAY, RED, ORANGE, TEAL, PURPLE = "#808080", "#ED1C24", "#F7941D", "#21968F", "#7B52A9"
FONT = "DejaVu Sans"
AX = "#2b2b2b"
PAD = "\u00a0\u00a0\u00a0\u00a0"  # pushes legend text right, as in the reference


def xy(t, y):
    n = min(len(t), len(y))
    return list(t[:n]), list(y[:n])


fig = go.Figure()


def dots(xs, ys, color, name, xa, ya, legend, size=7):
    fig.add_trace(go.Scatter(x=xs, y=ys, mode="markers", name=PAD + name + "\u00a0", legendgroup=name,
                             showlegend=legend, xaxis=xa, yaxis=ya,
                             marker=dict(size=size, color=color, line=dict(width=0))))


def fitline(xs, ys, xa, ya):
    fig.add_trace(go.Scatter(x=xs, y=ys, mode="lines", showlegend=False, xaxis=xa, yaxis=ya,
                             line=dict(color="black", width=2.6, shape="spline", smoothing=0.7),
                             hoverinfo="skip"))


# panel a data
x, y = xy(t_a, gray_a)
dots(x, y, GRAY, labels[0], "x", "y", True, size=7)
for base, extra, col, lab in [(red_a, red_a2, RED, labels[1]), (orange_a, orange_a2, ORANGE, labels[2]),
                              (teal_a, [], TEAL, labels[3]), (purple_a, purple_a2, PURPLE, labels[4])]:
    x1, y1 = xy(t_a, base)
    x2, y2 = xy(t_a2, extra)
    dots(x1 + x2, y1 + y2, col, lab, "x", "y", True)
for ft, fv in [(fit_t_gray, fit_gray), (fit_t_red, fit_red), (fit_t_orange, fit_orange),
               (fit_t_teal, fit_teal), (fit_t_purple, fit_purple)]:
    fitline(ft, fv, "x", "y")

# panel b data
for parts, col, lab in [([(t_b, red_b)], RED, labels[1]), ([(t_b, orange_b)], ORANGE, labels[2]),
                        ([(t_b, teal_b), (t_b2, teal_b2)], TEAL, labels[3]),
                        ([(t_b, purple_b), (t_b2, purple_b2), (t_b3, purple_b3)], PURPLE, labels[4])]:
    xs, ys = [], []
    for tt, vv in parts:
        a, b = xy(tt, vv)
        xs += a
        ys += b
    dots(xs, ys, col, lab, "x2", "y2", False)
for ft, fv in [(fit_t_red_b, fit_red_b), (fit_t_orange_b, fit_orange_b), (fit_t_teal_b, fit_teal_b),
               (fit_t_purple_b, fit_purple_b)]:
    fitline(ft, fv, "x2", "y2")

minor_a = [m * 10.0 ** e for e in range(-5, 0) for m in range(2, 10)]
minor_b = [m * 10.0 ** e for e in range(-4, -1) for m in range(2, 10)]

common_x = dict(showgrid=False, zeroline=False, showline=True, linecolor=AX, linewidth=1.5, mirror=True,
                ticks="inside", ticklen=6, tickwidth=1.4, tickcolor=AX, ticklabelstandoff=-6,
                tickfont=dict(size=24, family=FONT, color="#111"))
common_y = dict(type="log", showgrid=False, zeroline=False, showline=True, linecolor=AX, linewidth=1.5, mirror=True,
                ticks="inside", ticklen=6, tickwidth=1.4, tickcolor=AX, ticklabelstandoff=2,
                tickfont=dict(size=24, family=FONT, color="#111"))

ann_font = dict(size=27, family=FONT, color="#111")
title_font = dict(size=24, family=FONT, color="#111")

fig.update_layout(
    width=558, height=936,
    margin=dict(l=110, r=5, t=14, b=59, autoexpand=False),
    paper_bgcolor="white", plot_bgcolor="white",
    font=dict(family=FONT, size=22, color="#111"),
    xaxis=dict(domain=[0, 1], anchor="y", range=[-12.3, 82.3], tickvals=xticks_a, **common_x),
    yaxis=dict(domain=[0.5456, 1], anchor="x", range=[-5, -0.708], tickvals=yticks_a, ticktext=yticktext_a,
               minor=dict(tickvals=minor_a, ticks="inside", ticklen=3.5, tickwidth=1, tickcolor=AX, showgrid=False),
               title=dict(text="PL intensity (arb. units)", font=title_font, standoff=4), **common_y),
    xaxis2=dict(domain=[0, 1], anchor="y2", range=[-192, 1861], tickvals=xticks_b, **common_x),
    yaxis2=dict(domain=[0, 0.4552], anchor="x2", range=[-4, -1.515], tickvals=yticks_b, ticktext=yticktext_b,
                minor=dict(tickvals=minor_b, ticks="inside", ticklen=3.5, tickwidth=1, tickcolor=AX, showgrid=False),
                title=dict(text="PL intensity (arb. units)", font=title_font, standoff=4), **common_y),
    legend=dict(x=0.551, y=0.9223, xanchor="left", yanchor="top", bgcolor="rgba(255,255,255,0.8)",
                bordercolor="#cccccc", borderwidth=1, font=dict(size=22, family=FONT, color="#111"),
                tracegroupgap=1, itemwidth=30),
    showlegend=True,
    annotations=[
        dict(text="Time (ps)", x=0.5, y=0.4888, xref="paper", yref="paper", showarrow=False,
             xanchor="center", yanchor="middle", font=title_font),
        dict(text="Time (ps)", x=0.5, y=-0.0525, xref="paper", yref="paper", showarrow=False,
             xanchor="center", yanchor="middle", font=title_font),
        dict(text="ADT exciton", x=0.612, y=0.978, xref="paper", yref="paper", showarrow=False,
             xanchor="center", yanchor="middle", font=ann_font),
        dict(text="a)", x=0.950, y=0.978, xref="paper", yref="paper", showarrow=False,
             xanchor="center", yanchor="middle", font=ann_font),
        dict(text="PEN", x=0.481, y=0.4297, xref="paper", yref="paper", showarrow=False,
             xanchor="center", yanchor="middle", font=ann_font),
        dict(text="b)", x=0.950, y=0.4297, xref="paper", yref="paper", showarrow=False,
             xanchor="center", yanchor="middle", font=ann_font),
    ],
)

fig.write_html("out.html", config={"displayModeBar": False},
               post_script="document.body.style.margin='0';document.body.style.overflow='hidden';")
